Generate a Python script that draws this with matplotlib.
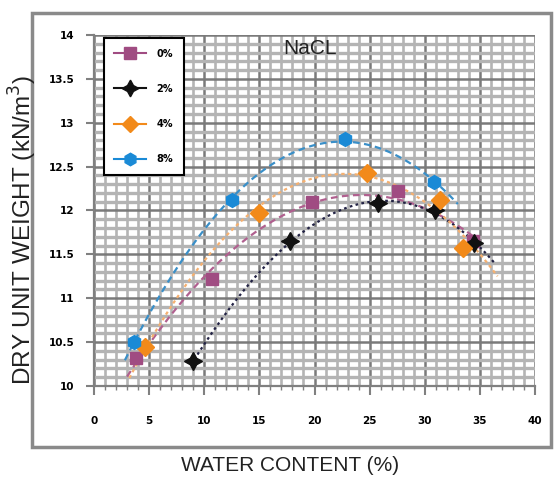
import numpy as np
import matplotlib
matplotlib.use("Agg")
import matplotlib.pyplot as plt
from matplotlib.lines import Line2D
from matplotlib.patches import Rectangle
from matplotlib.ticker import MultipleLocator

# ---- data ----
series_labels = ["0%", "2%", "4%", "8%"]
water_0 = [3.8, 10.7, 19.8, 27.6, 34.4]
dry_0 = [10.32, 11.22, 12.10, 12.22, 11.65]
water_2 = [9.0, 17.8, 25.8, 30.9, 34.5]
dry_2 = [10.28, 11.65, 12.08, 12.00, 11.63]
water_4 = [4.6, 15.0, 24.8, 31.4, 33.5]
dry_4 = [10.44, 11.97, 12.43, 12.12, 11.57]
water_8 = [3.6, 12.5, 22.8, 30.8]
dry_8 = [10.50, 12.12, 12.81, 12.33]
trend_start = [3.0, 8.8, 3.2, 2.8]
trend_end = [35.0, 36.3, 36.6, 33.0]
trend_order = [2, 3, 2, 2]
x_ticks = [0, 5, 10, 15, 20, 25, 30, 35, 40]
y_ticks = [10, 10.5, 11, 11.5, 12, 12.5, 13, 13.5, 14]
y_ticklabels = ["10", "10.5", "11", "11.5", "12", "12.5", "13", "13.5", "14"]

waters = [water_0, water_2, water_4, water_8]
drys = [dry_0, dry_2, dry_4, dry_8]
marker_colors = ["#a04c82", "#111111", "#f28a1a", "#1a8ad6"]
trend_colors = ["#b0608f", "#222244", "#f5b070", "#3a8fc8"]
markers = ["s", (4, 1, 0), "D", "h"]
msizes = [9, 13, 9, 10]
trend_styles = [(0, (3, 2)), (0, (1.2, 1.5)), (0, (1.5, 1.5)), (0, (3, 2))]

plt.rcParams['font.family'] = ['Liberation Sans', 'DejaVu Sans']

fig = plt.figure(figsize=(5.55, 4.8), dpi=100)
ax = fig.add_axes([0.1694, 0.196, 0.7946, 0.731])

ax.set_xlim(0, 40)
ax.set_ylim(10, 14)

# grid
ax.xaxis.set_minor_locator(MultipleLocator(1))
ax.yaxis.set_minor_locator(MultipleLocator(0.1))
ax.grid(which='minor', axis='x', color='#b4b4b4', lw=1.9)
ax.grid(which='minor', axis='y', color='#b4b4b4', lw=2.4)
ax.grid(which='major', color='#7a7a7a', lw=1.8)
ax.set_axisbelow(True)

# trend lines + markers
for i in range(4):
    xs = np.array(waters[i]); ys = np.array(drys[i])
    coef = np.polyfit(xs, ys, trend_order[i])
    xx = np.linspace(trend_start[i], trend_end[i], 200)
    ax.plot(xx, np.polyval(coef, xx), color=trend_colors[i], lw=1.6,
            ls=trend_styles[i], zorder=3)
for i in range(4):
    ax.plot(waters[i], drys[i], ls='none', marker=markers[i], ms=msizes[i],
            color=marker_colors[i], mec=marker_colors[i], zorder=4)

ax.set_xticks(x_ticks)
ax.set_yticks(y_ticks)
ax.set_yticklabels(y_ticklabels)
for s in ['top', 'right']:
    ax.spines[s].set_visible(False)
for s in ['left', 'bottom']:
    ax.spines[s].set_color('#808080')
    ax.spines[s].set_linewidth(1.6)
ax.tick_params(axis='x', which='major', length=6.5, width=1.5, color='#808080',
               pad=15, labelsize=7.5)
ax.tick_params(axis='x', which='minor', length=3, width=1, color='#808080')
ax.tick_params(axis='y', which='major', length=6, width=1.5, color='#808080',
               pad=8, labelsize=7.5)
ax.tick_params(axis='y', which='minor', length=0)
for lab in ax.get_xticklabels() + ax.get_yticklabels():
    lab.set_fontweight('bold')
    lab.set_family('DejaVu Sans')

# legend
handles = [Line2D([], [], color=marker_colors[i], marker=markers[i], ms=msizes[i] - 1,
                  lw=1.5, ls='-') for i in range(4)]
leg = ax.legend(handles, series_labels, loc='upper left', bbox_to_anchor=(0.022, 0.992),
                frameon=True, fancybox=False, edgecolor='black', framealpha=1,
                handlelength=3.3, handletextpad=1.0, labelspacing=2.6, borderpad=1.1,
                prop={'weight': 'bold', 'size': 7, 'family': 'DejaVu Sans'},
                borderaxespad=0)
leg.get_frame().set_linewidth(1.5)

ax.text(0.49, 0.962, "NaCL", transform=ax.transAxes, fontsize=15, ha='center',
        va='center', color='#222222')

fig.text(0.523, 0.03, "WATER CONTENT (%)", ha='center', va='center', fontsize=15,
         color='#222222')
fig.text(0.042, 0.52, "DRY UNIT WEIGHT (kN/m$^3$)", ha='center', va='center',
         rotation=90, fontsize=17.5, color='#222222')

fig.add_artist(Rectangle((0.058, 0.068), 0.935, 0.905, transform=fig.transFigure,
                         fill=False, ec='#8a8a8a', lw=2.5))

fig.savefig("out.png", dpi=100)
